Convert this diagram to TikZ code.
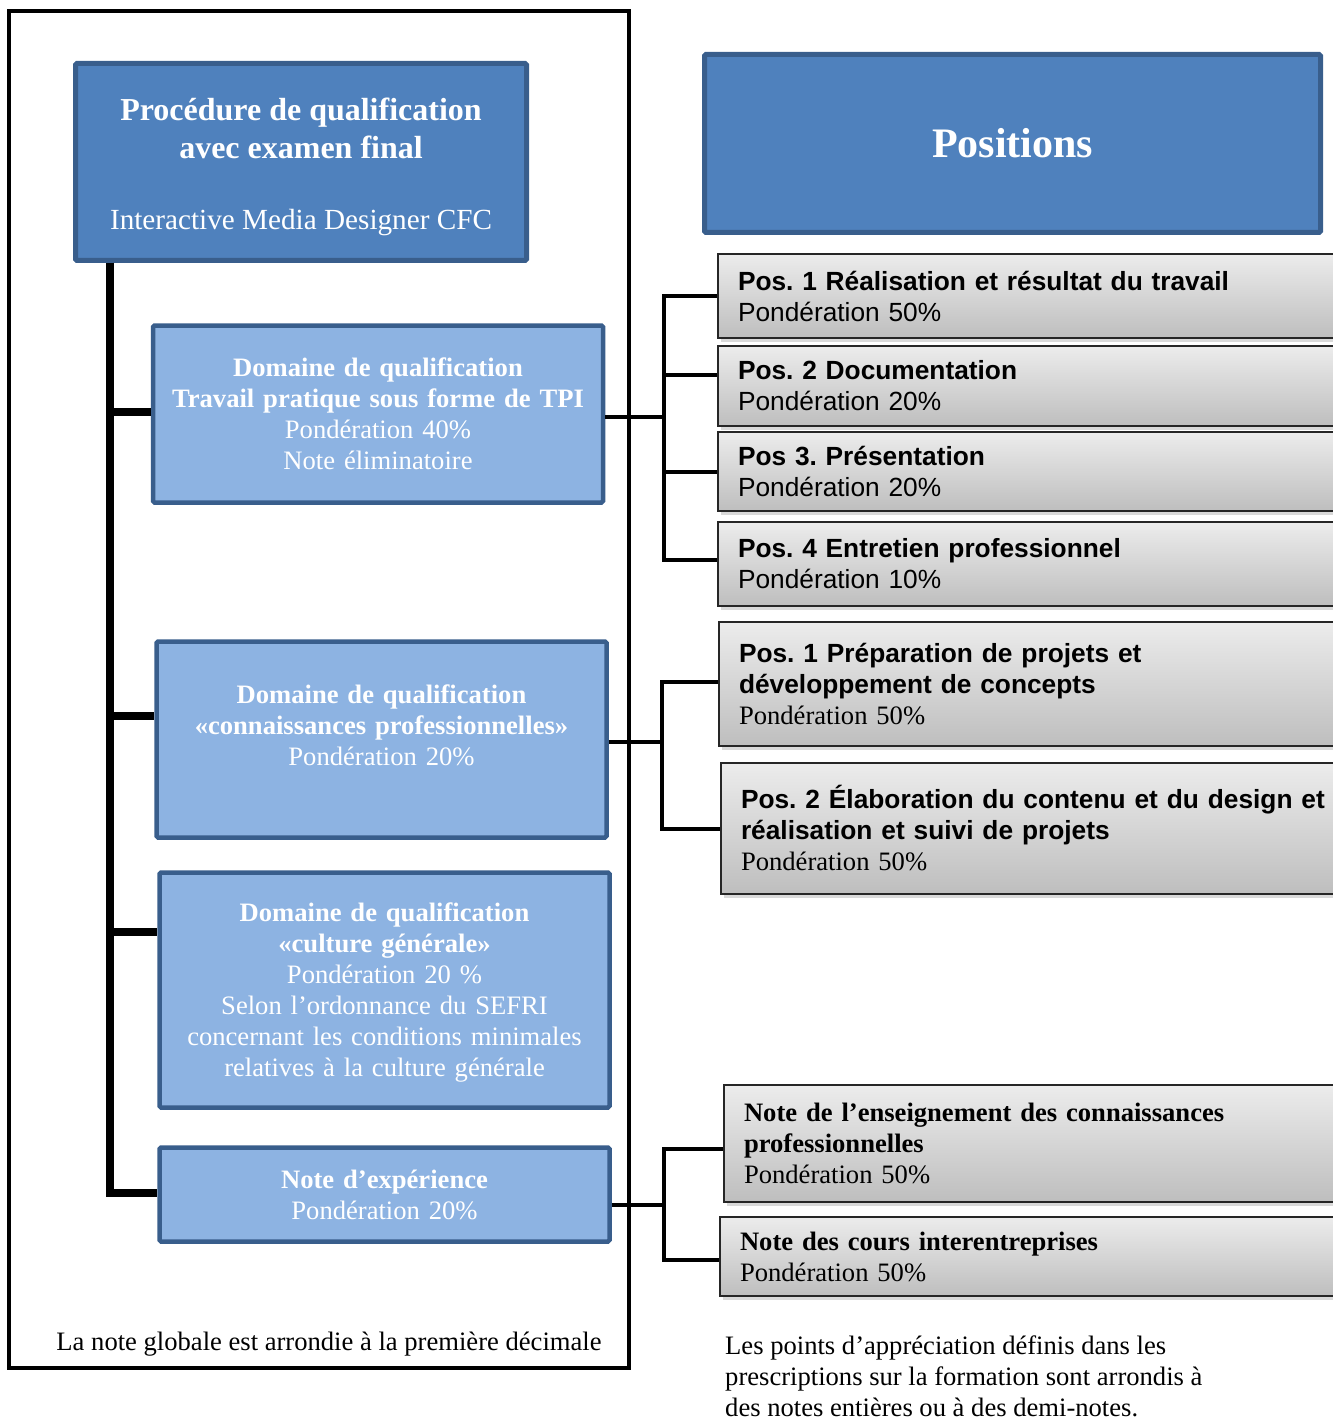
\documentclass[tikz,border=0pt]{standalone}
\usepackage{fontspec}
\setmainfont{Liberation Serif}
\newfontfamily\arial{Liberation Sans}
\usetikzlibrary{shadows}
\definecolor{darkblue}{RGB}{79,129,189}
\definecolor{lightblue}{RGB}{141,179,226}
\definecolor{blueline}{RGB}{57,94,140}
\definecolor{graytop}{RGB}{236,236,236}
\definecolor{graybot}{RGB}{190,190,190}
\frenchspacing
\begin{document}
\begin{tikzpicture}[x=1pt, y=-1pt,
    topbox/.style={rectangle, draw=blueline, line width=5pt, fill=darkblue, text=white,
      align=center, inner sep=0pt, rounded corners=1.5pt},
    domainbox/.style={rectangle, draw=blueline, line width=4.5pt, fill=lightblue, text=white,
      text width=450pt, align=center, inner sep=0pt, rounded corners=1.5pt,
      font=\fontsize{26.6}{31}\selectfont},
    posbox/.style={rectangle, draw=black!85, line width=2pt, top color=graytop, bottom color=graybot,
      anchor=west, text width=600pt, inner xsep=20pt, inner ysep=0pt, align=left,
      drop shadow={opacity=0.3, shadow xshift=3pt, shadow yshift=-4pt}},
    trunk/.style={line width=8pt, black},
    link/.style={line width=4pt, black}]
  \useasboundingbox (0,0) rectangle (1332,1420);

  % cadre de gauche
  \draw[line width=3.5pt] (9,11) rectangle (629,1368);

  \node[topbox, minimum width=451pt, minimum height=197pt, font=\fontsize{32}{38}\selectfont] (qv) at (301,162)
    {\rule{0pt}{32.5pt}\textbf{Procédure de qualification}\\ \textbf{avec examen final}\\[33pt]
     {\fontsize{29.2}{38}\selectfont Interactive Media Designer CFC}};
  \node[topbox, minimum width=616pt, minimum height=178pt, font=\fontsize{42}{50}\selectfont\bfseries] (positions) at (1012.5,143.5) {Positions};

  % domaines de qualification
  \node[domainbox, minimum height=177pt] (tpi) at (378,414)
    {\textbf{Domaine de qualification}\\ \textbf{Travail pratique sous forme de TPI}\\ Pondération 40\%\\ Note éliminatoire};
  \node[domainbox, minimum height=196pt] (prof) at (381.5,739.5)
    {\textbf{Domaine de qualification}\\ \textbf{«connaissances professionnelles»}\\ Pondération 20\%\\[-12pt] \strut};
  \node[domainbox, minimum height=235pt] (cult) at (384.5,990)
    {\rule{0pt}{24pt}\textbf{Domaine de qualification}\\ \textbf{«culture générale»}\\ Pondération 20 \%\\ Selon l’ordonnance du SEFRI\\ concernant les conditions minimales\\ relatives à la culture générale};
  \node[domainbox, minimum height=94pt] (exp) at (384.5,1194.5)
    {\textbf{Note d’expérience}\\ Pondération 20\%};

  \node[font=\fontsize{26.6}{31}\selectfont, inner sep=0pt] (arrondi) at (329,1344)
    {La note globale est arrondie à la première décimale};

  % positions
  \node[posbox, minimum height=84pt, font=\arial\fontsize{26.3}{31}\selectfont] (p1) at (717,296)
    {\textbf{Pos. 1 Réalisation et résultat du travail}\\ Pondération 50\%};
  \node[posbox, minimum height=80pt, font=\arial\fontsize{26.3}{31}\selectfont] (p2) at (717,386)
    {\textbf{Pos. 2 Documentation}\\ Pondération 20\%};
  \node[posbox, minimum height=79pt, font=\arial\fontsize{26.3}{31}\selectfont] (p3) at (717,471.5)
    {\textbf{Pos 3. Présentation}\\ Pondération 20\%};
  \node[posbox, minimum height=84pt, font=\arial\fontsize{26.3}{31}\selectfont] (p4) at (717,564)
    {\textbf{Pos. 4 Entretien professionnel}\\ Pondération 10\%};

  \node[posbox, minimum height=124pt, font=\fontsize{26.6}{31}\selectfont] (q1) at (718,684)
    {{\arial\fontsize{26.3}{31}\selectfont\bfseries Pos. 1 Préparation de projets et\\ développement de concepts}\\ Pondération 50\%};
  \node[posbox, minimum height=131pt, font=\fontsize{26.6}{31}\selectfont] (q2) at (720,828.5)
    {{\arial\fontsize{26.3}{31}\selectfont\bfseries Pos. 2 Élaboration du contenu et du design et\\ réalisation et suivi de projets}\\ Pondération 50\%};

  \node[posbox, minimum height=117pt, font=\fontsize{26.6}{31}\selectfont] (n1) at (723,1143.5)
    {\textbf{Note de l’enseignement des connaissances}\\ \textbf{professionnelles}\\ Pondération 50\%};
  \node[posbox, minimum height=79pt, font=\fontsize{26.6}{31}\selectfont] (n2) at (719,1256.5)
    {\textbf{Note des cours interentreprises}\\ Pondération 50\%};

  \node[anchor=north west, align=left, inner sep=0pt, font=\fontsize{26.6}{31}\selectfont] (points) at (725,1336)
    {Les points d’appréciation définis dans les\\ prescriptions sur la formation sont arrondis à\\ des notes entières ou à des demi-notes.};

  % liaisons
  \path (qv.south west) ++(36.5,0) coordinate (trunk);
  \foreach \n/\s in {tpi/2, prof/24, cult/58, exp/2}
    \draw[trunk] (trunk) |- ([yshift=\s pt]\n.west);

  \coordinate (busA) at (664,0);
  \coordinate (tpiout) at ([yshift=-3pt]tpi.east);
  \draw[link] (tpiout) -- (busA |- tpiout);
  \foreach \n/\s in {p1/0, p2/11, p3/0, p4/4}
    \draw[link] (busA |- tpiout) |- ([yshift=\s pt]\n.west);

  \coordinate (busB) at (662,0);
  \coordinate (profout) at ([yshift=-2pt]prof.east);
  \draw[link] (profout) -- (busB |- profout);
  \foreach \n/\s in {q1/2, q2/0}
    \draw[link] (busB |- profout) |- ([yshift=\s pt]\n.west);

  \coordinate (busC) at (664,0);
  \coordinate (expout) at ([yshift=-10pt]exp.east);
  \draw[link] (expout) -- (busC |- expout);
  \foreach \n/\s in {n1/-5.5, n2/-3.5}
    \draw[link] (busC |- expout) |- ([yshift=\s pt]\n.west);
\end{tikzpicture}
\end{document}
